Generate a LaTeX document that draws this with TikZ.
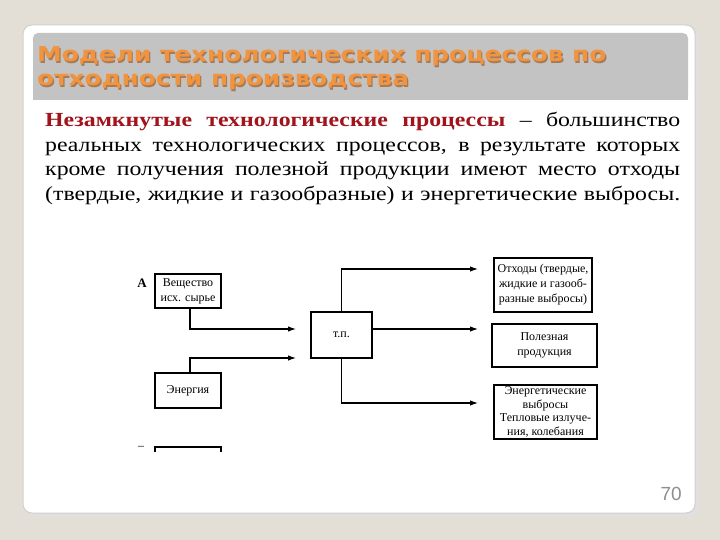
\documentclass[tikz,border=0pt]{standalone}
\usepackage{fontspec}
\setmainfont{Liberation Serif}
\newfontfamily\bodyfont[FakeStretch=1.19]{Liberation Serif}
\newfontfamily\titlefont[FakeStretch=1.21]{DejaVu Sans}
\newfontfamily\numfont{Liberation Sans}
\usetikzlibrary{arrows.meta,calc}
\definecolor{bgc}{HTML}{E4DFD6}
\definecolor{cardline}{HTML}{D2D0CC}
\definecolor{band}{HTML}{C3C3C3}
\definecolor{ttl}{HTML}{F0943F}
\definecolor{ttlsh}{HTML}{A87A55}
\definecolor{darkred}{HTML}{A1141C}
\definecolor{numgray}{HTML}{8E8E8E}
\tikzset{
  box/.style={draw=black, line width=1.1pt, inner sep=1pt, align=center,
    font=\fontsize{12}{15}\selectfont},
  arr/.style={line width=1.1pt, -{Latex[length=8pt,width=5.5pt]}},
  ln/.style={line width=1.1pt},
  titletext/.style={anchor=base west, inner sep=0pt,
    font=\titlefont\bfseries\fontsize{20.5}{24}\selectfont},
}
\begin{document}
\begin{tikzpicture}[x=1pt,y=-1pt]
\useasboundingbox (0,0) rectangle (720,540);
\fill[bgc] (0,0) rectangle (720,540);
% card with shadow
\fill[black!12, rounded corners=9pt] (26,28) rectangle (699,517);
\filldraw[fill=white, draw=cardline, line width=1pt, rounded corners=9pt] (23,25) rectangle (695,513);
% title band
\fill[band, rounded corners=5pt] (33,33) rectangle (688,100);
\fill[band] (33,60) rectangle (688,100);
% title
\node[titletext, text=ttlsh] (t1s) at (38.2,63.2) {Модели технологических процессов по};
\node[titletext, text=ttlsh] (t2s) at (38.2,87.2) {отходности производства};
\node[titletext, text=ttl] (t1) at (37,62) {Модели технологических процессов по};
\node[titletext, text=ttl] (t2) at (37,86) {отходности производства};
% body text
\node[anchor=north west, inner sep=0pt, text width=635pt, align=justify,
  font=\bodyfont\fontsize{20}{24.5}\selectfont] (body) at (45,112)
{\textcolor{darkred}{\textbf{Незамкнутые технологические процессы}} – большинство реальных технологических процессов, в результате которых кроме получения полезной продукции имеют место отходы (твердые, жидкие и газообразные) и энергетические выбросы.\parfillskip=0pt\par};
% diagram
\node[box, minimum width=66pt, minimum height=34pt] (vesch) at (188,291) {Вещество\\исх. сырье};
\node[box, minimum width=66pt, minimum height=35pt] (energ) at (188,390.5) {Энергия};
\node[box, minimum width=61pt, minimum height=46pt] (tp) at (341.5,335) {т.п.};
\node[box, minimum width=98pt, minimum height=54pt] (otx) at (543,285) {Отходы (твердые,\\жидкие и газооб-\\разные выбросы)};
\node[box, minimum width=105pt, minimum height=43pt] (pol) at (544.5,345.5) {Полезная\\продукция};
\node[box, minimum width=103pt, minimum height=54pt, font=\fontsize{12}{13.5}\selectfont] (enw) at (545.5,412) {Энергетические\\выбросы\\Тепловые излуче-\\ния, колебания};
\node[inner sep=0pt, font=\bfseries\fontsize{13}{15}\selectfont] (A) at (142,283) {А};
\node[inner sep=0pt, font=\fontsize{12}{14}\selectfont] (dash) at (141,448) {–};
% clipped bottom box
\coordinate (pb1) at (155,452);
\coordinate (pb2) at (155,447);
\coordinate (pb3) at (221,447);
\coordinate (pb4) at (221,452);
\draw[ln] (pb1) -- (pb2) -- (pb3) -- (pb4);
% inputs
\coordinate (in1) at (296,329);
\coordinate (in2) at (296,358);
\draw[arr] ($(vesch.south)+(2,0)$) |- (in1);
\draw[arr] ($(energ.north)+(2,0)$) |- (in2);
% outputs
\coordinate (o1) at (478,269);
\coordinate (o2) at (478,329);
\coordinate (o3) at (478,403);
\draw[arr] (tp.north) |- (o1);
\draw[arr] (tp.east |- o2) -- (o2);
\draw[arr] (tp.south) |- (o3);
% page number
\node[anchor=base east, inner sep=0pt, text=numgray, font=\numfont\fontsize{19}{22}\selectfont] (num) at (682,500) {70};
\end{tikzpicture}
\end{document}
